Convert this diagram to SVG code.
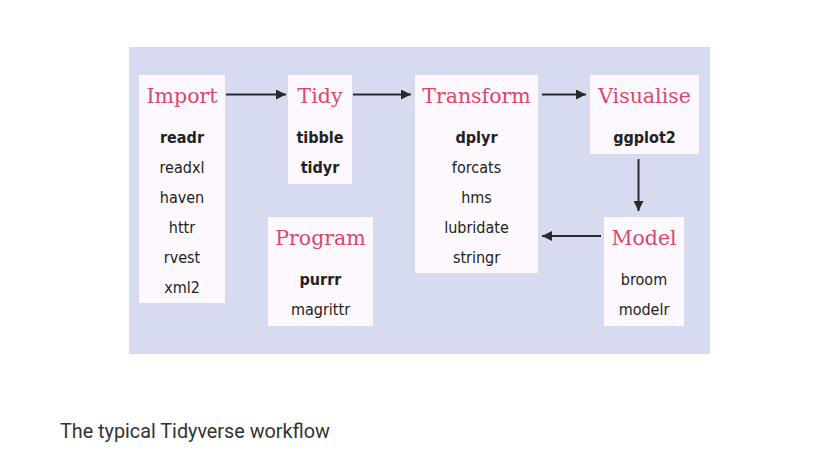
<svg xmlns="http://www.w3.org/2000/svg" width="837" height="456" viewBox="0 0 837 456">
<style>
.box{fill:#fdf8fd}
.t{font-family:"DejaVu Serif",serif;font-size:20.5px;fill:#d9486b;text-anchor:middle}
.p{font-family:"DejaVu Sans Condensed","DejaVu Sans",sans-serif;font-stretch:condensed;font-size:16px;fill:#222;text-anchor:middle}
.b{font-weight:bold}
.c{stroke:#2a2a2a;stroke-width:2;fill:none;marker-end:url(#ah)}
</style>
<defs>
<marker id="ah" viewBox="0 0 10 10" refX="10" refY="5" markerWidth="5.5" markerHeight="5" orient="auto" markerUnits="strokeWidth">
<path d="M0,0 L10,5 L0,10 z" fill="#2a2a2a"/>
</marker>
</defs>
<rect width="837" height="456" fill="#ffffff"/>
<rect x="129" y="47" width="581" height="307" fill="#d7dbf0"/>
<g id="import">
<rect class="box" x="139" y="75" width="86" height="228"/>
<text class="t" x="182" y="103">Import</text>
<text class="p b" x="182" y="143">readr</text>
<text class="p" x="182" y="173">readxl</text>
<text class="p" x="182" y="203">haven</text>
<text class="p" x="182" y="233">httr</text>
<text class="p" x="182" y="263">rvest</text>
<text class="p" x="182" y="293">xml2</text>
</g>
<g id="tidy">
<rect class="box" x="288" y="75" width="64" height="109"/>
<text class="t" x="320" y="103">Tidy</text>
<text class="p b" x="320" y="143">tibble</text>
<text class="p b" x="320" y="173">tidyr</text>
</g>
<g id="transform">
<rect class="box" x="415" y="75" width="123" height="198"/>
<text class="t" x="476.5" y="103">Transform</text>
<text class="p b" x="476.5" y="143">dplyr</text>
<text class="p" x="476.5" y="173">forcats</text>
<text class="p" x="476.5" y="203">hms</text>
<text class="p" x="476.5" y="233">lubridate</text>
<text class="p" x="476.5" y="263">stringr</text>
</g>
<g id="visualise">
<rect class="box" x="590" y="75" width="109" height="79"/>
<text class="t" x="644.5" y="103">Visualise</text>
<text class="p b" x="644.5" y="143">ggplot2</text>
</g>
<g id="model">
<rect class="box" x="604" y="217" width="80" height="109"/>
<text class="t" x="644" y="245">Model</text>
<text class="p" x="644" y="285">broom</text>
<text class="p" x="644" y="315">modelr</text>
</g>
<g id="program">
<rect class="box" x="268" y="217" width="105" height="109"/>
<text class="t" x="320.5" y="245">Program</text>
<text class="p b" x="320.5" y="285">purrr</text>
<text class="p" x="320.5" y="315">magrittr</text>
</g>
<g id="connectors">
<line class="c" x1="226" y1="94.5" x2="286" y2="94.5"/>
<line class="c" x1="353" y1="94.5" x2="411" y2="94.5"/>
<line class="c" x1="542" y1="94.5" x2="586" y2="94.5"/>
<line class="c" x1="638.5" y1="159" x2="638.5" y2="211"/>
<line class="c" x1="601" y1="236" x2="542" y2="236"/>
</g>
<text x="60" y="438" font-family="Roboto,sans-serif" font-size="19.8" fill="#333">The typical Tidyverse workflow</text>
</svg>
